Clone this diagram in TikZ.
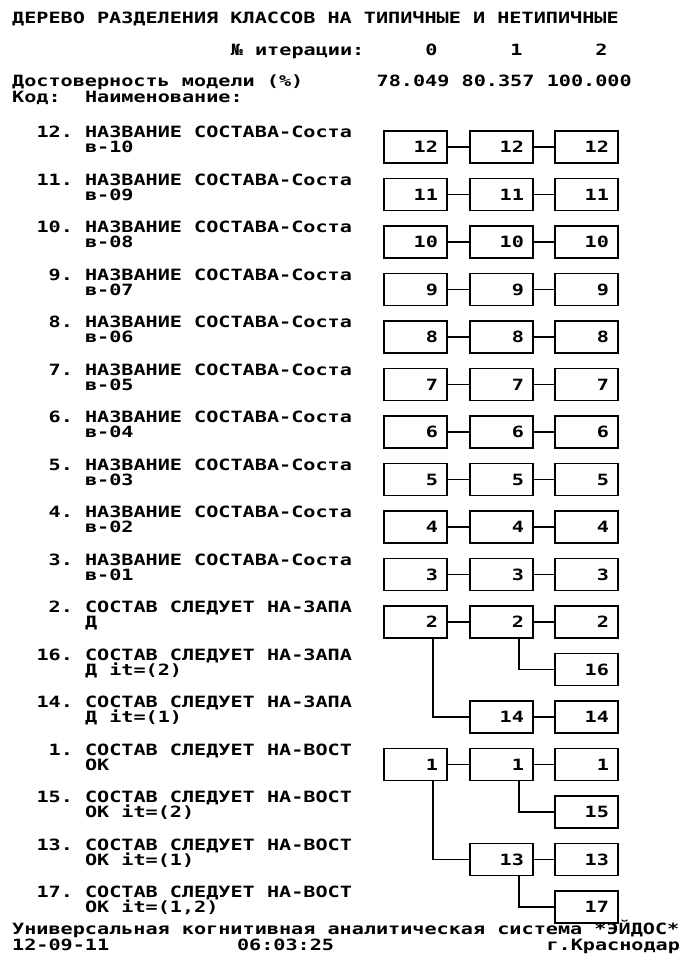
\documentclass[tikz,border=0pt]{standalone}
\usepackage{fontspec}
\newfontfamily\dos{DejaVu Sans Mono}[FakeStretch=1.30]
\begin{document}
\begin{tikzpicture}[x=1pt,y=-1pt,
  txt/.style={font=\dos\bfseries\fontsize{15.5}{16}\selectfont, inner sep=0pt, outer sep=0pt, anchor=base west},
  num/.style={txt, anchor=base east},
  box/.style={draw, line width=1.8pt, minimum width=63pt, minimum height=32pt, inner xsep=9pt, inner ysep=0pt, text width=45pt, align=right, font=\dos\bfseries\fontsize{15.5}{16}\selectfont},
  link/.style={line width=1.8pt}]
\useasboundingbox (0,0) rectangle (686,961);
% header
\node[txt] (title) at (12.15,23.5) {ДЕРЕВО РАЗДЕЛЕНИЯ КЛАССОВ НА ТИПИЧНЫЕ И НЕТИПИЧНЫЕ};
\node[txt] (iter) at (230.85,55.5) {№ итерации:};
\node[txt] (it0) at (425.25,55.5) {0};
\node[txt] (it1) at (510.3,55.5) {1};
\node[txt] (it2) at (595.35,55.5) {2};
\node[txt] (dost) at (12.15,86.5) {Достоверность модели (\%)};
\node[txt] (d0) at (376.65,86.5) {78.049};
\node[txt] (d1) at (461.7,86.5) {80.357};
\node[txt] (d2) at (546.75,86.5) {100.000};
\node[txt] (kod) at (12.15,102.5) {Код:};
\node[txt] (naim) at (85.05,102.5) {Наименование:};
% rows 0-9
\foreach \i/\n/\s in {0/12/10,1/11/09,2/10/08,3/9/07,4/8/06,5/7/05,6/6/04,7/5/03,8/4/02,9/3/01}{
  \pgfmathsetmacro\y{147+47.5*\i}
  \node[num] (n\n) at (72.9,\y-9.5) {\n.};
  \node[txt] (t\n) at (85.05,\y-9.5) {НАЗВАНИЕ СОСТАВА-Соста};
  \node[txt] (u\n) at (85.05,\y+5.5) {в-\s};
  \node[box] (b\n-0) at (415.5,\y) {\n};
  \node[box] (b\n-1) at (501.5,\y) {\n};
  \node[box] (b\n-2) at (586.5,\y) {\n};
  \draw[link] (b\n-0.east) -- (b\n-1.west);
  \draw[link] (b\n-1.east) -- (b\n-2.west);
}
% labels rows 10-16
\node[num] (n2) at (72.9,612.5) {2.};
\node[txt] (t2) at (85.05,612.5) {СОСТАВ СЛЕДУЕТ НА-ЗАПА};
\node[txt] (u2) at (85.05,627.5) {Д};
\node[num] (n16) at (72.9,660) {16.};
\node[txt] (t16) at (85.05,660) {СОСТАВ СЛЕДУЕТ НА-ЗАПА};
\node[txt] (u16) at (85.05,675) {Д it=(2)};
\node[num] (n14) at (72.9,707.5) {14.};
\node[txt] (t14) at (85.05,707.5) {СОСТАВ СЛЕДУЕТ НА-ЗАПА};
\node[txt] (u14) at (85.05,722.5) {Д it=(1)};
\node[num] (n1) at (72.9,755) {1.};
\node[txt] (t1) at (85.05,755) {СОСТАВ СЛЕДУЕТ НА-ВОСТ};
\node[txt] (u1) at (85.05,770) {ОК};
\node[num] (n15) at (72.9,802.5) {15.};
\node[txt] (t15) at (85.05,802.5) {СОСТАВ СЛЕДУЕТ НА-ВОСТ};
\node[txt] (u15) at (85.05,817.5) {ОК it=(2)};
\node[num] (n13) at (72.9,850) {13.};
\node[txt] (t13) at (85.05,850) {СОСТАВ СЛЕДУЕТ НА-ВОСТ};
\node[txt] (u13) at (85.05,865) {ОК it=(1)};
\node[num] (n17) at (72.9,897.5) {17.};
\node[txt] (t17) at (85.05,897.5) {СОСТАВ СЛЕДУЕТ НА-ВОСТ};
\node[txt] (u17) at (85.05,912.5) {ОК it=(1,2)};
% boxes rows 10-16
\node[box] (b2-0) at (415.5,622) {2};
\node[box] (b2-1) at (501.5,622) {2};
\node[box] (b2-2) at (586.5,622) {2};
\node[box] (b16-2) at (586.5,669.5) {16};
\node[box] (b14-1) at (501.5,717) {14};
\node[box] (b14-2) at (586.5,717) {14};
\node[box] (b1-0) at (415.5,764.5) {1};
\node[box] (b1-1) at (501.5,764.5) {1};
\node[box] (b1-2) at (586.5,764.5) {1};
\node[box] (b15-2) at (586.5,812) {15};
\node[box] (b13-1) at (501.5,859.5) {13};
\node[box] (b13-2) at (586.5,859.5) {13};
\node[box] (b17-2) at (586.5,907) {17};
% connectors
\draw[link] (b2-0.east) -- (b2-1.west);
\draw[link] (b2-1.east) -- (b2-2.west);
\draw[link] ([xshift=17.5pt]b2-1.south) |- (b16-2.west);
\draw[link] ([xshift=17.5pt]b2-0.south) |- (b14-1.west);
\draw[link] (b14-1.east) -- (b14-2.west);
\draw[link] (b1-0.east) -- (b1-1.west);
\draw[link] (b1-1.east) -- (b1-2.west);
\draw[link] ([xshift=17.5pt]b1-1.south) |- (b15-2.west);
\draw[link] ([xshift=17.5pt]b1-0.south) |- (b13-1.west);
\draw[link] (b13-1.east) -- (b13-2.west);
\draw[link] ([xshift=17.5pt]b13-1.south) |- (b17-2.west);
% footer
\node[txt] (sys) at (12.15,934) {Универсальная когнитивная аналитическая система *ЭЙДОС*};
\node[txt] (date) at (12.15,950.5) {12-09-11};
\node[txt] (time) at (237,950.5) {06:03:25};
\node[txt, anchor=base east] (city) at (680,950.5) {г.Краснодар};
\end{tikzpicture}
\end{document}
